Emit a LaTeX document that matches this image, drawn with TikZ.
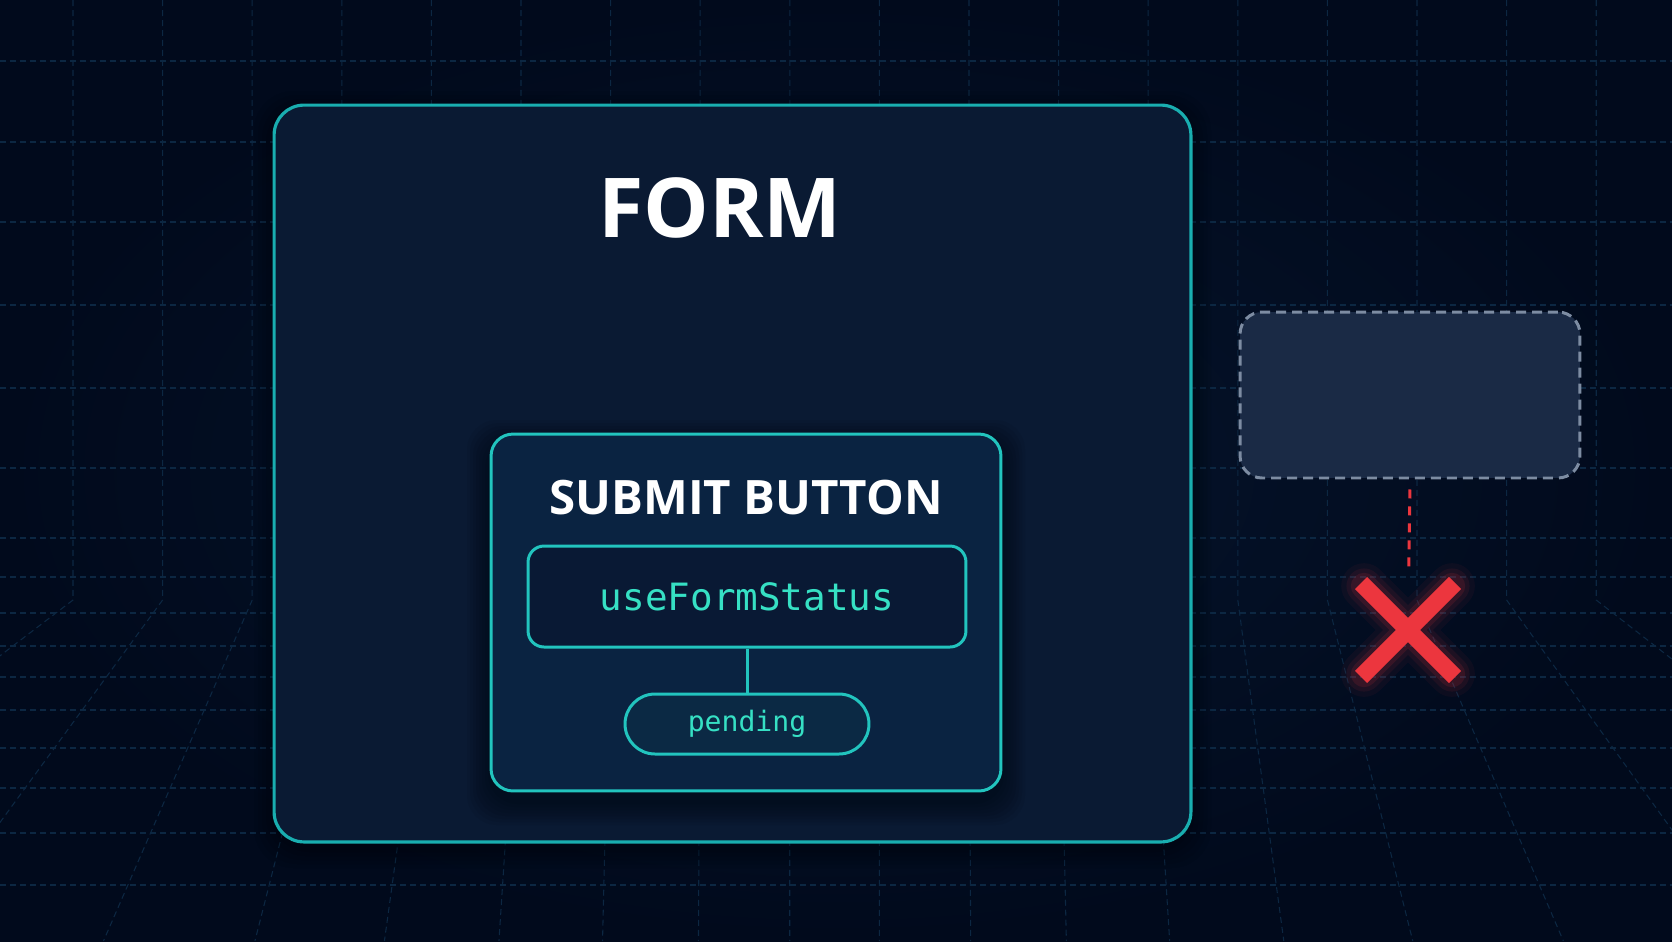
\documentclass[tikz,border=0pt]{standalone}
\usepackage{fontspec}
\setmainfont{Open Sans}
\setmonofont{DejaVu Sans Mono}
\definecolor{bgnavy}{HTML}{010A1C}
\definecolor{bgmid}{HTML}{06152E}
\definecolor{gridblue}{HTML}{0C2742}
\definecolor{formfill}{HTML}{0A1A33}
\definecolor{subfill}{HTML}{0A2341}
\definecolor{hookfill}{HTML}{091934}
\definecolor{pillfill}{HTML}{0B2944}
\definecolor{tealline}{HTML}{19AEB0}
\definecolor{tealbright}{HTML}{22C4BE}
\definecolor{mint}{HTML}{36E0C4}
\definecolor{ghostfill}{HTML}{1A2A45}
\definecolor{ghostdash}{HTML}{7D8CA2}
\definecolor{alertred}{HTML}{EC363E}
\begin{document}
\begin{tikzpicture}[x=0.02cm, y=-0.02cm,
  gridline/.style={draw=gridblue, line width=0.6pt, dash pattern=on 0.12cm off 0.08cm},
  formbox/.style={draw=tealline, fill=formfill, line width=1.8pt, rounded corners=0.6cm, inner sep=0pt, minimum width=18.34cm, minimum height=14.74cm},
  subbox/.style={draw=tealbright, fill=subfill, line width=1.7pt, rounded corners=0.44cm, inner sep=0pt, minimum width=10.2cm, minimum height=7.14cm},
  hookbox/.style={draw=tealbright, fill=hookfill, line width=1.7pt, rounded corners=0.32cm, inner sep=0pt, minimum width=8.76cm, minimum height=2.02cm, text=mint, font=\ttfamily\fontsize{21.4}{24}\selectfont},
  pillbox/.style={draw=tealbright, fill=pillfill, line width=1.7pt, rounded corners=0.6cm, inner sep=0pt, minimum width=4.88cm, minimum height=1.2cm, text=mint, font=\ttfamily\fontsize{16}{18}\selectfont},
  ghostbox/.style={draw=ghostdash, fill=ghostfill, line width=1.7pt, dash pattern=on 0.2cm off 0.12cm, rounded corners=0.44cm, inner sep=0pt, minimum width=6.8cm, minimum height=3.32cm},
  title/.style={text=white, font=\bfseries\fontsize{#1}{#1}\selectfont},
  link/.style={draw=tealbright, line width=1.7pt},
  nolink/.style={draw=alertred, line width=1.7pt, dash pattern=on 0.18cm off 0.16cm},
  redcross/.style={draw=alertred, line width=9.7pt}]
\useasboundingbox (0,0) rectangle (1672,941);
\shade[inner color=bgmid, outer color=bgnavy] (0,0) rectangle (1672,941);
\begin{scope}
\clip (0,0) rectangle (1672,941);
\foreach \gy in {61,142,222,305,388,468,538,577,613,646,677,710,748,788,833,885}
  \draw[gridline] (0,\gy) -- (1672,\gy);
\foreach \k in {0,...,17}{
  \pgfmathsetmacro\gx{73+89.6*\k}
  \pgfmathsetmacro\gd{\gx-836}
  \pgfmathsetmacro\gdx{341*sign(\gd)*tan(52*(abs(\gd)/760)^3)}
  \draw[gridline] (\gx,0) -- (\gx,600) -- ++(\gdx,341);
}
\end{scope}
\foreach \s in {4,8,...,20}
  \fill[black, opacity=0.06, rounded corners=0.8cm] (274-\s,111-\s) rectangle (1191+\s,848+\s);
\node[formbox] (form) at (732.5,473.5) {};
\node[title=47] (formtitle) at (720,208) {FORM};
\foreach \s in {3,6,...,24}
  \fill[black, opacity=0.05, rounded corners=0.6cm] (491-\s,444-\s) rectangle (1001+\s,801+\s);
\node[subbox] (button) at (746,612.5) {};
\node[title=27] (buttontitle) at (746,498) {SUBMIT BUTTON};
\node[hookbox] (hook) at (747,596.5) {\raisebox{-0.06cm}{useFormStatus}};
\node[pillbox] (pending) at (747,724) {\raisebox{-0.06cm}{pending}};
\draw[link] (hook) -- (pending);
\node[ghostbox] (ghost) at (1410,395) {};
\coordinate (xmark) at (1408,630);
\draw[nolink, shorten <=0.2cm, shorten >=1.12cm] (ghost.south) -- (xmark);
\foreach \w/\o in {26/0.05,20/0.08,15/0.12}
  \draw[alertred, line width=\w pt, opacity=\o, line cap=round] (xmark) ++(-44,-44) -- ++(88,88) (xmark) ++(44,-44) -- ++(-88,88);
\draw[redcross] (xmark) ++(-47,-47) -- ++(94,94) (xmark) ++(47,-47) -- ++(-94,94);
\end{tikzpicture}
\end{document}
